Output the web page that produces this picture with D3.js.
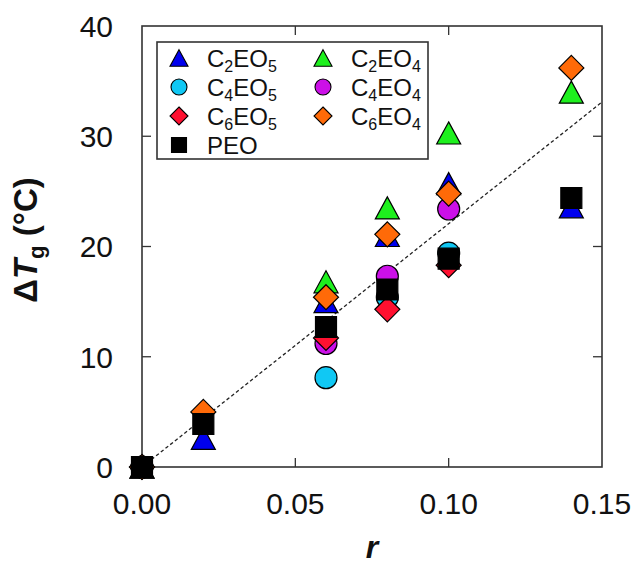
<!DOCTYPE html>
<html>
<head>
<meta charset="utf-8">
<script src="https://cdn.jsdelivr.net/npm/d3@7"></script>
<style>
  html, body { margin: 0; padding: 0; background: #fff; }
  svg { display: block; font-family: Arial, "Liberation Sans", sans-serif; }
</style>
</head>
<body>
<svg id="chart" width="639" height="574"></svg>
<script>
// Glass-transition shift versus salt ratio r
const rValues = [0, 0.02, 0.06, 0.08, 0.10, 0.14];
const c2eo5 = [0, 2.6, 15.0, 21.0, 25.7, 23.6];
const c4eo5 = [0, null, 8.1, 15.4, 19.4, null];
const c4eo4 = [0, null, 11.2, 17.3, 23.4, null];
const c6eo5 = [0, null, 11.7, 14.3, 18.3, null];
const c2eo4 = [0, null, 16.8, 23.5, 30.3, 34.0];
const c6eo4 = [0, 5.0, 15.4, 21.1, 24.8, 36.2];
const peo   = [0, 3.9, 12.7, 16.1, 18.9, 24.4];
const fitLine = [[0, 0], [0.15, 33.1]];

const xTicks = [0, 0.05, 0.10, 0.15];
const yTicks = [0, 10, 20, 30, 40];

// drawing order (later series sit on top)
const series = [
  { key: "C2EO5", base: "C", n: "2", tail: "EO", m: "5", values: c2eo5, shape: "triangle", color: "#0000ee" },
  { key: "C4EO5", base: "C", n: "4", tail: "EO", m: "5", values: c4eo5, shape: "circle",   color: "#10c8f4" },
  { key: "C4EO4", base: "C", n: "4", tail: "EO", m: "4", values: c4eo4, shape: "circle",   color: "#cc10e8" },
  { key: "C6EO5", base: "C", n: "6", tail: "EO", m: "5", values: c6eo5, shape: "diamond",  color: "#ff1030" },
  { key: "C2EO4", base: "C", n: "2", tail: "EO", m: "4", values: c2eo4, shape: "triangle", color: "#1ef01e" },
  { key: "C6EO4", base: "C", n: "6", tail: "EO", m: "4", values: c6eo4, shape: "diamond",  color: "#ff6a08" },
  { key: "PEO",   base: "PEO", values: peo, shape: "square", color: "#000000" }
];
const legendOrder = [
  ["C2EO5", "C2EO4"],
  ["C4EO5", "C4EO4"],
  ["C6EO5", "C6EO4"],
  ["PEO", null]
];

const svg = d3.select("#chart");
const margin = { left: 142, right: 37, top: 26, bottom: 107 };
const W = 639, H = 574;
const x = d3.scaleLinear().domain([0, 0.15]).range([margin.left, W - margin.right]);
const y = d3.scaleLinear().domain([0, 40]).range([H - margin.bottom, margin.top]);

// custom marker shapes, centred on their bounding box; "size" is the full width
const shapes = {
  triangle: { draw(ctx, s) { const w = s / 2, h = s * 0.46; ctx.moveTo(0, -h); ctx.lineTo(w, h); ctx.lineTo(-w, h); ctx.closePath(); } },
  circle:   { draw(ctx, s) { const r = s / 2; ctx.moveTo(r, 0); ctx.arc(0, 0, r, 0, 2 * Math.PI); } },
  diamond:  { draw(ctx, s) { const r = s / 2; ctx.moveTo(0, -r); ctx.lineTo(r, 0); ctx.lineTo(0, r); ctx.lineTo(-r, 0); ctx.closePath(); } },
  square:   { draw(ctx, s) { const r = s / 2; ctx.rect(-r, -r, s, s); } }
};
const plotSize = { triangle: 24, circle: 22, diamond: 25, square: 21 };
const legendSize = { triangle: 18, circle: 16, diamond: 18, square: 15 };
const marker = (shape, size) => d3.symbol().type(shapes[shape]).size(size)();

const frameColor = "#333";

// ticks pointing inward on all four sides
const axisG = svg.append("g").attr("stroke", frameColor).attr("stroke-width", 1.3);
const tickLen = 9;
xTicks.slice(1, -1).forEach(t => {
  axisG.append("line").attr("x1", x(t)).attr("x2", x(t)).attr("y1", y(0)).attr("y2", y(0) - tickLen);
  axisG.append("line").attr("x1", x(t)).attr("x2", x(t)).attr("y1", y(40)).attr("y2", y(40) + tickLen);
});
yTicks.slice(1, -1).forEach(t => {
  axisG.append("line").attr("x1", x(0)).attr("x2", x(0) + tickLen).attr("y1", y(t)).attr("y2", y(t));
  axisG.append("line").attr("x1", x(0.15)).attr("x2", x(0.15) - tickLen).attr("y1", y(t)).attr("y2", y(t));
});

// tick labels
svg.append("g").selectAll("text").data(xTicks).join("text")
  .attr("x", d => x(d)).attr("y", y(0) + 47)
  .attr("text-anchor", "middle").attr("font-size", 30).attr("fill", "#111")
  .text(d => d3.format(".2f")(d));
svg.append("g").selectAll("text").data(yTicks).join("text")
  .attr("x", x(0) - 29).attr("y", d => y(d)).attr("dy", "0.36em")
  .attr("text-anchor", "end").attr("font-size", 30).attr("fill", "#111")
  .text(d => d);

// frame
svg.append("rect")
  .attr("x", x(0)).attr("y", y(40))
  .attr("width", x(0.15) - x(0)).attr("height", y(0) - y(40))
  .attr("fill", "none").attr("stroke", frameColor).attr("stroke-width", 1.6);

// linear fit through the origin
svg.append("path")
  .attr("d", d3.line().x(d => x(d[0])).y(d => y(d[1]))(fitLine))
  .attr("fill", "none").attr("stroke", "#222").attr("stroke-width", 1.3)
  .attr("stroke-dasharray", "3.5,2.5");

// data markers
series.forEach(s => {
  const pts = rValues.map((r, i) => ({ r, v: s.values[i] })).filter(d => d.v != null);
  svg.append("g").selectAll("path").data(pts).join("path")
    .attr("transform", d => `translate(${x(d.r)},${y(d.v)})`)
    .attr("d", marker(s.shape, plotSize[s.shape]))
    .attr("fill", s.color).attr("stroke", "#000").attr("stroke-width", 1.2);
});

// legend
const lg = svg.append("g");
lg.append("rect").attr("x", 157).attr("y", 42).attr("width", 271).attr("height", 117)
  .attr("fill", "#fff").attr("stroke", frameColor).attr("stroke-width", 1.6);
const byKey = Object.fromEntries(series.map(s => [s.key, s]));
const colX = [179, 323];
legendOrder.forEach((row, ri) => {
  const ry = 58 + ri * 29;
  row.forEach((key, ci) => {
    if (!key) return;
    const s = byKey[key];
    lg.append("path")
      .attr("transform", `translate(${colX[ci]},${ry})`)
      .attr("d", marker(s.shape, legendSize[s.shape]))
      .attr("fill", s.color).attr("stroke", "#000").attr("stroke-width", 1.1);
    const t = lg.append("text").attr("x", colX[ci] + 28).attr("y", ry + 9)
      .attr("font-size", 24).attr("fill", "#111");
    t.append("tspan").text(s.base);
    if (s.n) {
      t.append("tspan").attr("font-size", 16).attr("dy", 4.5).text(s.n);
      t.append("tspan").attr("dy", -4.5).text(s.tail);
      t.append("tspan").attr("font-size", 16).attr("dy", 4.5).text(s.m);
    }
  });
});

// axis titles
svg.append("text")
  .attr("x", (x(0) + x(0.15)) / 2).attr("y", 558)
  .attr("text-anchor", "middle").attr("font-size", 32)
  .attr("font-weight", "bold").attr("font-style", "italic").attr("fill", "#111")
  .text("r");

const yt = svg.append("text")
  .attr("transform", `translate(37,${240}) rotate(-90)`)
  .attr("text-anchor", "middle").attr("font-size", 33)
  .attr("font-weight", "bold").attr("fill", "#111");
yt.append("tspan").text("Δ");
yt.append("tspan").attr("font-style", "italic").text("T");
yt.append("tspan").attr("font-size", 22).attr("dy", 7).text("g");
yt.append("tspan").attr("dy", -7).text(" (°C)");
</script>
</body>
</html>
